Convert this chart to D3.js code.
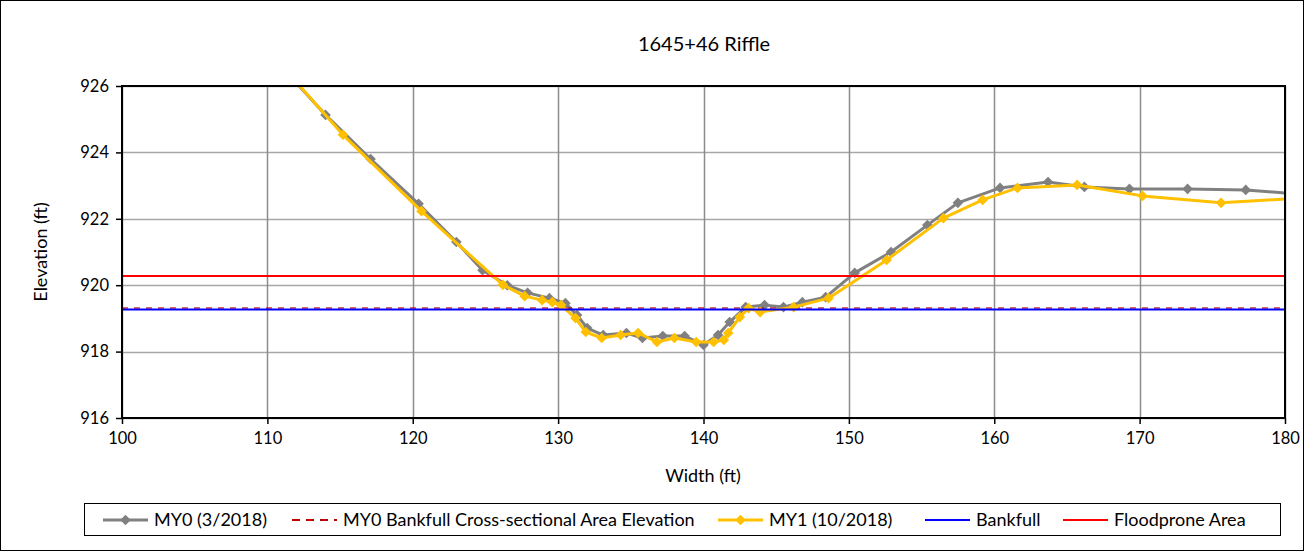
<!DOCTYPE html>
<html>
<head>
<meta charset="utf-8">
<script src="https://cdn.jsdelivr.net/npm/d3@7"></script>
<style>
  html, body { margin: 0; padding: 0; background: #fff; }
  svg { display: block; }
  text { font-family: "Lato", "Liberation Sans", sans-serif; fill: #000; }
</style>
</head>
<body>
<svg id="chart" width="1304" height="551"></svg>
<script>
// Cross-section survey, station 1645+46 (riffle)
const title = "1645+46 Riffle";

// MY0 (3/2018) survey: width (ft), elevation (ft)
const my0Width = [110.3, 114.0, 117.1, 120.4, 123.0, 124.8, 126.5, 127.9, 129.4, 130.5, 131.3, 132.0, 133.1, 134.7, 135.8, 137.2, 138.7, 140.0, 141.0, 141.8, 142.9, 144.2, 145.5, 146.8, 148.4, 150.4, 152.9, 155.4, 157.5, 160.4, 163.7, 166.2, 169.3, 173.3, 177.3, 182.0];
const my0Elev  = [926.9, 925.13, 923.8, 922.45, 921.3, 920.45, 920.0, 919.77, 919.61, 919.46, 919.1, 918.71, 918.5, 918.56, 918.41, 918.47, 918.47, 918.2, 918.5, 918.89, 919.34, 919.4, 919.34, 919.49, 919.64, 920.37, 921.0, 921.81, 922.48, 922.93, 923.11, 922.96, 922.9, 922.9, 922.87, 922.71];

// MY1 (10/2018) survey: width (ft), elevation (ft)
const my1Width = [110.2, 115.2, 120.6, 126.2, 127.7, 128.9, 129.6, 130.2, 131.2, 131.9, 133.0, 134.3, 135.5, 136.8, 138.0, 139.5, 140.7, 141.4, 141.7, 142.5, 143.1, 143.9, 146.2, 148.6, 152.6, 156.5, 159.2, 161.6, 165.7, 170.2, 175.6, 182.0];
const my1Elev  = [927.0, 924.53, 922.23, 920.01, 919.67, 919.55, 919.49, 919.4, 919.01, 918.59, 918.41, 918.5, 918.56, 918.29, 918.41, 918.29, 918.29, 918.35, 918.56, 919.04, 919.31, 919.19, 919.34, 919.61, 920.76, 922.02, 922.57, 922.93, 923.02, 922.69, 922.48, 922.65];

// Reference elevations (ft)
const my0BankfullXsElev = 919.31;
const bankfullElev = 919.27;
const floodproneElev = 920.28;

// Axes
const xDomain = [100, 180];
const yDomain = [916, 926];
const xTicks = [100, 110, 120, 130, 140, 150, 160, 170, 180];
const yTicks = [916, 918, 920, 922, 924, 926];

const legendLabels = ["MY0 (3/2018)", "MY0 Bankfull Cross-sectional Area Elevation", "MY1 (10/2018)", "Bankfull", "Floodprone Area"];

const colors = { my0: "#808080", my1: "#FFC000", xs: "#C00000", bankfull: "#0000FF", flood: "#FF0000" };

const svg = d3.select("#chart");
const W = 1304, H = 551;
const plot = { left: 122, right: 1285, top: 86, bottom: 418 };

const x = d3.scaleLinear().domain(xDomain).range([plot.left, plot.right]);
const y = d3.scaleLinear().domain(yDomain).range([plot.bottom, plot.top]);

// chart area border
svg.append("rect").attr("x", 0.5).attr("y", 0.5).attr("width", W - 1).attr("height", H - 1)
  .attr("fill", "#fff").attr("stroke", "#000").attr("stroke-width", 1);

// title
svg.append("text").attr("x", 704).attr("y", 51).attr("text-anchor", "middle")
  .style("font-size", "20px").text(title);

// gridlines
svg.append("g").selectAll("line").data(yTicks).join("line")
  .attr("x1", plot.left).attr("x2", plot.right)
  .attr("y1", d => Math.round(y(d)) + 0.5).attr("y2", d => Math.round(y(d)) + 0.5)
  .attr("stroke", "#A6A6A6").attr("stroke-width", 1.5);
svg.append("g").selectAll("line").data(xTicks).join("line")
  .attr("y1", plot.top).attr("y2", plot.bottom)
  .attr("x1", d => Math.round(x(d)) + 0.5).attr("x2", d => Math.round(x(d)) + 0.5)
  .attr("stroke", "#8C8C8C").attr("stroke-width", 1.5);

// axes
const xAxis = d3.axisBottom(x).tickValues(xTicks).tickSize(6).tickPadding(8).tickFormat(d3.format("d"));
const yAxis = d3.axisLeft(y).tickValues(yTicks).tickSize(6).tickPadding(7).tickFormat(d3.format("d"));
const gx = svg.append("g").attr("transform", `translate(0,${plot.bottom})`).call(xAxis);
const gy = svg.append("g").attr("transform", `translate(${plot.left},0)`).call(yAxis);
[gx, gy].forEach(g => {
  g.select(".domain").remove();
  g.selectAll(".tick line").attr("stroke", "#000").attr("stroke-width", 1.5);
  g.selectAll(".tick text").style("font-size", "16.5px").style("font-family", "Lato, 'Liberation Sans', sans-serif").attr("fill", "#000");
});

// axis titles
svg.append("text").attr("x", 703).attr("y", 482).attr("text-anchor", "middle")
  .style("font-size", "18px").text("Width (ft)");
svg.append("text").attr("transform", `translate(47,${(plot.top + plot.bottom) / 2}) rotate(-90)`)
  .attr("text-anchor", "middle").style("font-size", "18px").text("Elevation (ft)");

// clip to plot area
svg.append("clipPath").attr("id", "plotClip").append("rect")
  .attr("x", plot.left).attr("y", plot.top)
  .attr("width", plot.right - plot.left).attr("height", plot.bottom - plot.top);
const g = svg.append("g").attr("clip-path", "url(#plotClip)");

const line = d3.line().x(d => x(d[0])).y(d => y(d[1]));
const my0 = my0Width.map((w, i) => [w, my0Elev[i]]);
const my1 = my1Width.map((w, i) => [w, my1Elev[i]]);
const diamond = d3.symbol().type(d3.symbolDiamond2).size(72);

function drawSeries(data, color) {
  g.append("path").datum(data).attr("d", line).attr("fill", "none")
    .attr("stroke", color).attr("stroke-width", 3).attr("stroke-linejoin", "round");
  g.append("g").selectAll("path").data(data).join("path")
    .attr("d", diamond).attr("transform", d => `translate(${x(d[0])},${y(d[1])})`)
    .attr("fill", color);
}

drawSeries(my0, colors.my0);

// MY0 bankfull cross-sectional area elevation
g.append("line").attr("x1", x(xDomain[0])).attr("x2", x(xDomain[1]))
  .attr("y1", y(my0BankfullXsElev)).attr("y2", y(my0BankfullXsElev))
  .attr("stroke", colors.xs).attr("stroke-width", 2).attr("stroke-dasharray", "6,6").attr("opacity", 0.6);

drawSeries(my1, colors.my1);

// bankfull and floodprone elevations
g.append("line").attr("x1", x(xDomain[0])).attr("x2", x(xDomain[1]))
  .attr("y1", y(bankfullElev)).attr("y2", y(bankfullElev))
  .attr("stroke", colors.bankfull).attr("stroke-width", 2);
g.append("line").attr("x1", x(xDomain[0])).attr("x2", x(xDomain[1]))
  .attr("y1", y(floodproneElev)).attr("y2", y(floodproneElev))
  .attr("stroke", colors.flood).attr("stroke-width", 2);

// plot area frame
svg.append("rect").attr("x", plot.left).attr("y", plot.top)
  .attr("width", plot.right - plot.left).attr("height", plot.bottom - plot.top)
  .attr("fill", "none").attr("stroke", "#000").attr("stroke-width", 2);

// legend
const lg = svg.append("g");
lg.append("rect").attr("x", 84.5).attr("y", 503.5).attr("width", 1196).attr("height", 32)
  .attr("fill", "#fff").attr("stroke", "#000").attr("stroke-width", 1);
const legendItems = [
  { label: legendLabels[0], color: colors.my0, marker: true, x0: 103 },
  { label: legendLabels[1], color: colors.xs, dash: true, x0: 292 },
  { label: legendLabels[2], color: colors.my1, marker: true, x0: 718 },
  { label: legendLabels[3], color: colors.bankfull, x0: 925 },
  { label: legendLabels[4], color: colors.flood, x0: 1063 }
];
const ly = 520;
legendItems.forEach(it => {
  lg.append("line").attr("x1", it.x0).attr("x2", it.x0 + 45).attr("y1", ly).attr("y2", ly)
    .attr("stroke", it.color).attr("stroke-width", it.marker ? 3 : 2)
    .attr("stroke-dasharray", it.dash ? "8,6" : null);
  if (it.marker) {
    lg.append("path").attr("d", diamond).attr("transform", `translate(${it.x0 + 22.5},${ly})`).attr("fill", it.color);
  }
  lg.append("text").attr("x", it.x0 + 51).attr("y", ly + 6).style("font-size", "18px").text(it.label);
});
</script>
</body>
</html>
